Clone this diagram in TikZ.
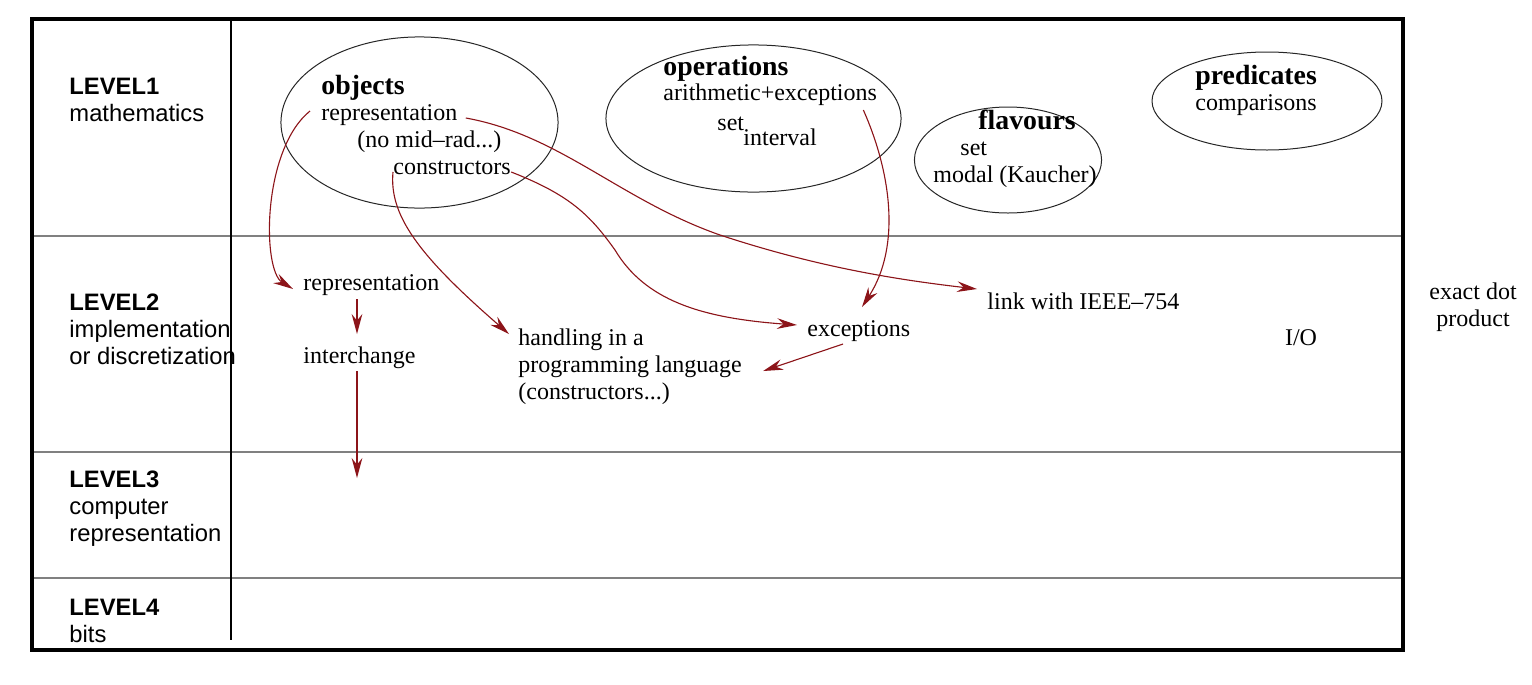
\documentclass[tikz,border=0pt]{standalone}
\usepackage{fontspec}
\setmainfont{Liberation Serif}
\setsansfont{Liberation Sans}
\usetikzlibrary{arrows.meta,positioning,shapes.geometric,calc}
\definecolor{arrowred}{RGB}{140,20,25}

\begin{document}
\begin{tikzpicture}[
      x=0.45pt,y=-0.45pt,
      >={Stealth[length=9pt,width=4.8pt,inset=3pt]},
      lvl/.style={font=\sffamily\fontsize{10.7}{12.2}\selectfont,align=left,anchor=west,inner sep=0},
      txt/.style={font=\fontsize{10.8}{12.2}\selectfont,anchor=west,inner sep=0,text height=1.5ex,text depth=.25ex},
      hd/.style={txt,font=\bfseries\fontsize{12.5}{14}\selectfont},
      blob/.style={draw=black!85,ellipse,line width=0.45pt,inner sep=0},
      flow/.style={->,arrowred,line width=0.5pt}
    ]
    \useasboundingbox (0,0) rectangle (1532,684);
    % frame and levels
    \foreach \y in {236,452,578}
      \draw[gray,line width=0.7pt] (32,\y) -- (1403,\y);
    \draw[line width=1.4pt] (32,19) rectangle (1403,650);
    \draw[line width=1.2pt] (231,19) -- (231,640);
    \node[lvl] (lev1) at (69,100)  {\textbf{LEVEL1}\\mathematics};
    \node[lvl] (lev2) at (69,329) {\textbf{LEVEL2}\\implementation\\or discretization};
    \node[lvl] (lev3) at (69,509) {\textbf{LEVEL3}\\computer\\representation};
    \node[lvl] (lev4) at (69,621) {\textbf{LEVEL4}\\bits};
    % level 1 bubbles
    \node[blob,minimum width=124.7pt,minimum height=77pt] (objects) at (419.5,122.5) {};
    \node[blob,minimum width=132.8pt,minimum height=66.2pt] (operations) at (753.5,118.5) {};
    \node[blob,minimum width=84.2pt,minimum height=47.7pt] (flavours) at (1008,160) {};
    \node[blob,minimum width=103.5pt,minimum height=44.1pt] (predicates) at (1267,101) {};
    \begin{scope}[every node/.style={txt}]
      \node[hd] (obhd) at (321,88) {objects};
      \node (obrep) at (321,114) {representation};
      \node (obmid) at (357,141) {(no mid--rad...)};
      \node (obcon) at (393,168) {constructors};
      \node[hd] (ophd) at (663,69) {operations};
      \node (oparith) at (663,94) {arithmetic+exceptions};
      \node (opset) at (717,124) {set};
      \node (opint) at (743,139) {interval};
      \node[hd] (flhd) at (978,123) {flavours};
      \node (flset) at (960,149) {set};
      \node (flmodal) at (933,176) {modal (Kaucher)};
      \node[hd] (prhd) at (1195,78) {predicates};
      \node (prcomp) at (1195,104) {comparisons};
      % level 2
      \node (l2rep) at (303,284) {representation};
      \node (ichg) at (303,357) {interchange};
      \node (exc) at (807,330) {exceptions};
      \node (ieee) at (987,303) {link with IEEE--754};
      \node[anchor=center] (io) at (1301,339) {I/O};
    \end{scope}
    \node[txt,align=left,text height=,text depth=] (handling) at (518,367) {handling in a\\programming language\\(constructors...)};
    \node[txt,align=center,anchor=center,text height=,text depth=] (dot) at (1473,307) {exact dot\\product};
    \coordinate (l3in) at (357,478);
    % connectors
    \draw[flow] ($(obrep.west)+(-11,-3)$) .. controls (262,150) and (262,270) .. ($(l2rep.west)+(-10,5)$);
    \draw[flow] ($(obcon.west)+(0,4)$) .. controls (389,215) and (418,255) .. ($(handling.west)+(-9,-33)$);
    \draw[flow] ($(obcon.east)+(0,4)$) .. controls (570,195) and (590,215) .. (615,250)
      .. controls (645,300) and (700,318) .. ($(exc.west)+(-10,-5)$);
    \draw[flow] ($(obrep.east)+(8,4)$) .. controls (560,135) and (620,200) .. (720,235)
      .. controls (820,268) and (900,280) .. ($(ieee.west)+(-10,-14)$);
    \draw[flow] ($(oparith.east)+(-14,16)$) .. controls (890,170) and (902,245) .. ($(exc.west)+(55,-23)$);
    \draw[flow] ($(exc.west)+(36,14)$) -- ($(handling.east)+(21,4)$);
    \draw[flow] ($(l2rep.west)+(54,15)$) -- ($(ichg.west)+(54,-23)$);
    \draw[flow] ($(ichg.west)+(54,14)$) -- (l3in);
  \end{tikzpicture}
\end{document}
